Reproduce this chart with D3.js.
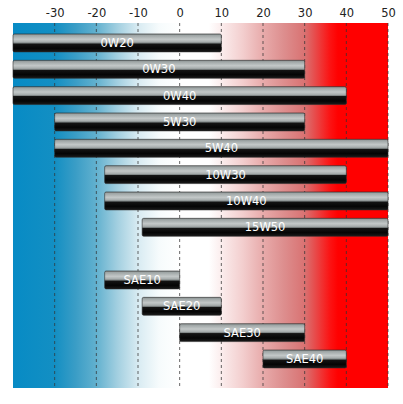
<!DOCTYPE html>
<html>
<head>
<meta charset="utf-8">
<script src="https://cdn.jsdelivr.net/npm/d3@7"></script>
<style>
  html, body { margin: 0; padding: 0; background: #fff; }
  svg { display: block; }
</style>
</head>
<body>
<svg id="chart" width="403" height="404"></svg>
<script>
// ---- data ----
const grades = ["0W20", "0W30", "0W40", "5W30", "5W40", "10W30", "10W40", "15W50",
                "SAE10", "SAE20", "SAE30", "SAE40"];
const lowTemps  = [-40, -40, -40, -30, -30, -18, -18, -9, -18, -9, 0, 20];
const highTemps = [10, 30, 40, 30, 50, 40, 50, 50, 0, 10, 30, 40];
const tickValues = [-30, -20, -10, 0, 10, 20, 30, 40, 50];
const tickLabels = ["-30", "-20", "-10", "0", "10", "20", "30", "40", "50"];
const domainMin = -40, domainMax = 50;

// ---- layout ----
const svg = d3.select("#chart");
const plot = { left: 13, right: 388, top: 23, bottom: 388 };

const x = d3.scaleLinear().domain([domainMin, domainMax]).range([plot.left, plot.right]);

// multigrade rows, a spacer row, then monograde rows
const rowDomain = grades.slice(0, 8).concat(["__gap__"]).concat(grades.slice(8));
const y = d3.scaleBand().domain(rowDomain).range([28.7, 373.2])
  .paddingInner(0.32).paddingOuter(0.2);

const defs = svg.append("defs");

// background temperature gradient
const bgStops = [
  [-40, "#078bc5"], [-30, "#138fc3"], [-25, "#3a9dc6"], [-20, "#62b1cf"],
  [-15, "#a2cfe0"], [-10, "#d8ebf2"], [-5, "#f6fbfc"], [0, "#ffffff"],
  [7, "#ffffff"], [10, "#fbeded"], [15, "#f3cfcf"], [20, "#e8abab"],
  [25, "#dd8e8e"], [30, "#d97272"], [33, "#ea4343"], [36, "#fb1414"],
  [38, "#ff0000"], [50, "#ff0000"]
];
const bg = defs.append("linearGradient").attr("id", "bgGrad")
  .attr("gradientUnits", "userSpaceOnUse")
  .attr("x1", x(domainMin)).attr("x2", x(domainMax)).attr("y1", 0).attr("y2", 0);
bg.selectAll("stop").data(bgStops).join("stop")
  .attr("offset", d => (d[0] - domainMin) / (domainMax - domainMin))
  .attr("stop-color", d => d[1]);

// glossy bar gradient
const barGrad = defs.append("linearGradient").attr("id", "barGrad")
  .attr("x1", 0).attr("x2", 0).attr("y1", 0).attr("y2", 1);
[[0, "#7f8787"], [0.08, "#9ea5a5"], [0.3, "#c3c8c8"], [0.45, "#a6acac"],
 [0.52, "#6e7474"], [0.55, "#141414"], [0.8, "#050505"], [1, "#1a1a1a"]]
  .forEach(s => barGrad.append("stop").attr("offset", s[0]).attr("stop-color", s[1]));

// background
svg.append("rect")
  .attr("x", plot.left).attr("y", plot.top)
  .attr("width", plot.right - plot.left).attr("height", plot.bottom - plot.top)
  .attr("fill", "url(#bgGrad)");

// dashed grid lines
svg.append("g").selectAll("line").data(tickValues).join("line")
  .attr("x1", d => x(d)).attr("x2", d => x(d))
  .attr("y1", plot.top).attr("y2", plot.bottom)
  .attr("stroke", "#333").attr("stroke-opacity", 0.75)
  .attr("stroke-width", 1).attr("stroke-dasharray", "3,3");

// top axis labels
const axis = d3.axisTop(x).tickValues(tickValues).tickSize(0).tickPadding(0)
  .tickFormat((d, i) => tickLabels[i]);
const ag = svg.append("g").attr("transform", `translate(0,${plot.top - 6})`).call(axis);
ag.select(".domain").remove();
ag.selectAll("text")
  .attr("font-family", "'DejaVu Sans', Verdana, sans-serif")
  .attr("font-size", "11.5px").attr("fill", "#222");

// bars
const rows = grades.map((g, i) => ({ name: g, lo: lowTemps[i], hi: highTemps[i] }));
const bars = svg.append("g").selectAll("g").data(rows).join("g");
bars.append("rect")
  .attr("x", d => x(d.lo))
  .attr("y", d => y(d.name))
  .attr("width", d => x(d.hi) - x(d.lo))
  .attr("height", y.bandwidth())
  .attr("rx", 1.5)
  .attr("fill", "url(#barGrad)")
  .attr("stroke", "#2a2a2a").attr("stroke-width", 0.6);
bars.append("text")
  .attr("x", d => (x(d.lo) + x(d.hi)) / 2)
  .attr("y", d => y(d.name) + y.bandwidth() / 2)
  .attr("dy", "0.36em")
  .attr("text-anchor", "middle")
  .attr("font-family", "'DejaVu Sans', Verdana, sans-serif")
  .attr("font-size", "11.5px")
  .attr("fill", "#fff")
  .text(d => d.name);
</script>
</body>
</html>
